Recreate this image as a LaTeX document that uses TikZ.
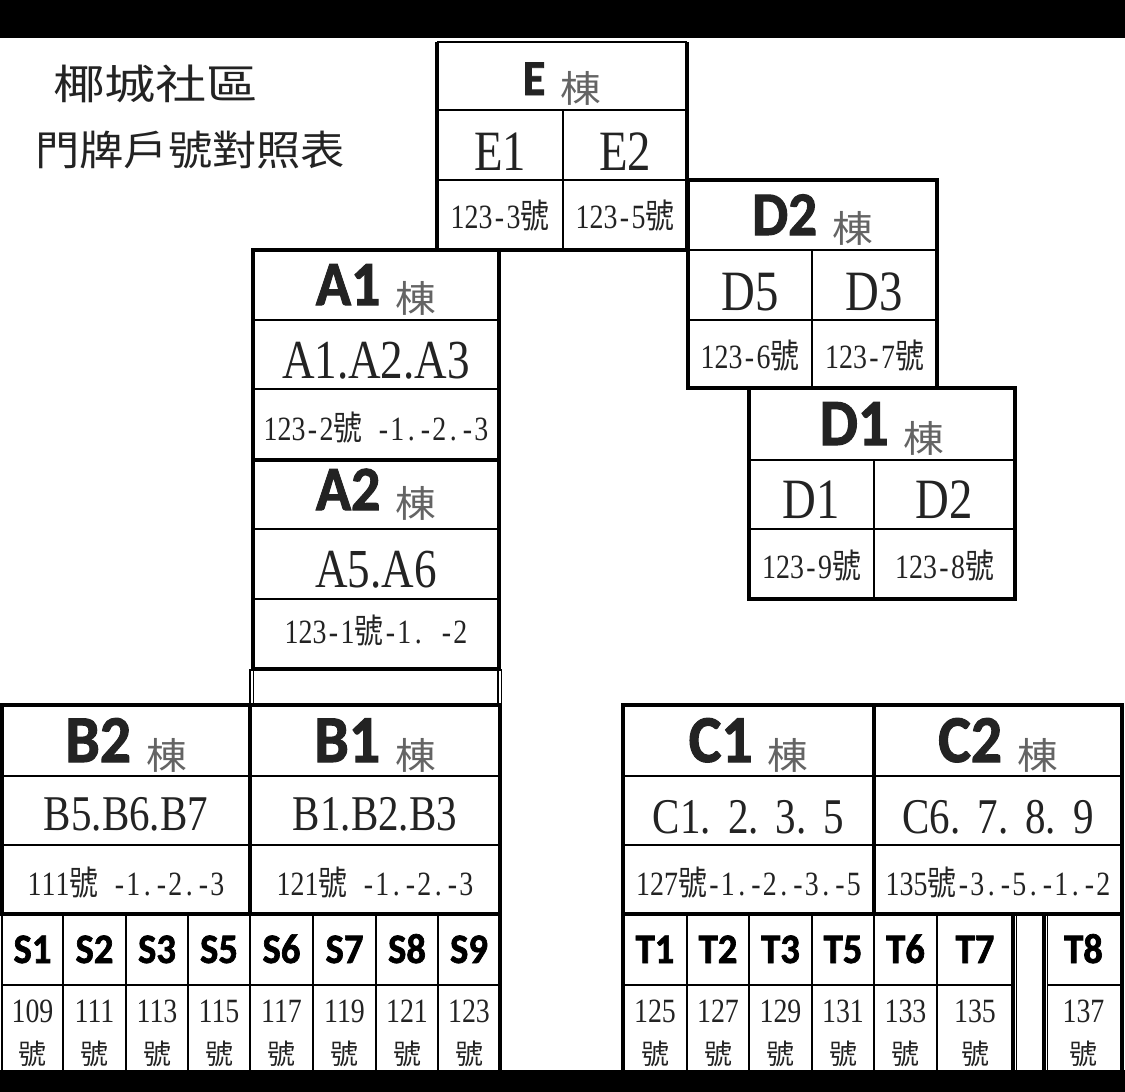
\documentclass[tikz,border=0pt]{standalone}
\usepackage{fontspec}
\setmainfont{Liberation Serif}[FakeStretch=0.82]
\newfontfamily\sansb{Carlito}[UprightFont=*-Bold,FakeStretch=0.92,FakeBold=1.6]
\newfontfamily\cjkwide{Noto Sans CJK TC}[FakeStretch=1.25]
\newfontfamily\cjkdong{Noto Sans CJK TC}[FakeStretch=1.1]
\newfontfamily\cjktitle{Noto Sans CJK TC}[FakeStretch=1.08]
\newfontfamily\cjk{Noto Sans CJK TC}
\newfontfamily\cjknarrow{Noto Sans CJK TC}[FakeStretch=0.85]
\definecolor{donggray}{RGB}{100,100,100}
\definecolor{inkgray}{RGB}{35,35,35}
% building name with the word 棟
\newcommand{\dongname}[2]{{\sansb\fontsize{#1}{#1}\selectfont #2}\hspace{15pt}\raisebox{-7pt}{\cjkdong\color{donggray}\fontsize{37}{37}\selectfont 棟}}
\newcommand{\hao}{{\cjknarrow 號}}
% half-width cells for house numbers
\makeatletter
\newcommand{\monorow}[1]{\@tfor\mch:=#1\do{\makebox[14pt]{\mch}}}
\makeatother
\begin{document}
\begin{tikzpicture}[x=1pt,y=-1pt,
    thickline/.style={line width=4.5pt},
    thinline/.style={line width=1.4pt},
    every node/.style={inner sep=0pt,anchor=base,text=inkgray},
    bigserif/.style={font=\fontsize{#1}{#1}\selectfont},
    smallserif/.style={font=\fontsize{34}{34}\selectfont},
    celllabel/.style={font=\sansb\fontsize{42}{42}\selectfont,text=black},
    cellhao/.style={anchor=center,font=\cjk\fontsize{28}{28}\selectfont}]
    \useasboundingbox (0,0) rectangle (1125,1092);
    \fill[white] (0,0) rectangle (1125,1092);
    % title
    \node[anchor=west] (titleOne) at (53,84) {\cjkwide\fontsize{41}{41}\selectfont 椰城社區};
    \node[anchor=west] (titleTwo) at (35,150) {\cjktitle\fontsize{41}{41}\selectfont 門牌戶號對照表};
    % E block
    \draw[thinline] (437,42) -- (687,42);
    \draw[thickline] (437,42) -- (437,250) -- (687,250) -- (687,42);
    \draw[thinline] (437,110) -- (687,110) (437,180) -- (687,180) (563,110) -- (563,250);
    % D2 block
    \draw[thickline] (688,180) rectangle (937,388);
    \draw[thinline] (688,250) -- (937,250) (688,320) -- (937,320) (812,250) -- (812,388);
    % D1 block
    \draw[thickline] (749,388) rectangle (1015,599);
    \draw[thinline] (749,460) -- (1015,460) (749,529) -- (1015,529) (874,460) -- (874,599);
    % A1 and A2 blocks
    \draw[thickline] (253,250) rectangle (499,669);
    \draw[thickline] (253,460) -- (499,460);
    \draw[thinline] (253,320) -- (499,320) (253,389) -- (499,389) (253,529) -- (499,529) (253,599) -- (499,599);
    \draw[thinline] (250,669) -- (250,705) (253.5,669) -- (253.5,705) (498,669) -- (498,705) (501.5,669) -- (501.5,705);
    % B2 and B1 blocks
    \draw[thickline] (2,705) rectangle (500,914);
    \draw[thickline] (250,705) -- (250,914);
    \draw[thinline] (2,776) -- (500,776) (2,845) -- (500,845);
    % S row
    \draw[thickline] (500,914) -- (500,1092);
    \draw[thinline] (2,914) -- (2,1092) (2,985) -- (500,985);
    \foreach \x in {63,126,188,250,313,376,438}
        \draw[thinline] (\x,914) -- (\x,1092);
    % C1 and C2 blocks
    \draw[thickline] (623,705) rectangle (1122,914);
    \draw[thickline] (874,705) -- (874,914);
    \draw[thinline] (623,776) -- (1122,776) (623,845) -- (1122,845);
    % T row
    \draw[thickline] (623,914) -- (623,1092) (1122,914) -- (1122,1092) (1013,914) -- (1013,1092) (1044,914) -- (1044,1092);
    \draw[thinline] (1016.5,914) -- (1016.5,1092) (1047.5,914) -- (1047.5,1092);
    \draw[thinline] (623,985) -- (1013,985) (1047.5,985) -- (1122,985);
    \foreach \x in {687,749,812,874,937}
        \draw[thinline] (\x,914) -- (\x,1092);
    % headers
    \node (eHead) at (562,95) {\dongname{50}{E}};
    \node (dtwoHead) at (812.5,235) {\dongname{62}{D2}};
    \node (doneHead) at (882,445) {\dongname{66}{D1}};
    \node (aoneHead) at (376,305) {\dongname{63}{A1}};
    \node (atwoHead) at (376,510) {\dongname{63}{A2}};
    \node (btwoHead) at (126,762) {\dongname{67}{B2}};
    \node (boneHead) at (375,762) {\dongname{67}{B1}};
    \node (coneHead) at (748.5,762) {\dongname{67}{C1}};
    \node (ctwoHead) at (998,762) {\dongname{67}{C2}};
    % unit names
    \node[bigserif=57] (eOne) at (500,170) {E1};
    \node[bigserif=57] (eTwo) at (625,170) {E2};
    \node[bigserif=57] (dFive) at (750,310) {D5};
    \node[bigserif=57] (dThree) at (874.5,310) {D3};
    \node[bigserif=57] (dOne) at (811.5,518) {D1};
    \node[bigserif=57] (dTwo) at (944.5,518) {D2};
    \node[bigserif=55] (aUnits) at (376,378) {A1.A2.A3};
    \node[bigserif=55] (aTwoUnits) at (376,587) {A5.A6};
    \node[bigserif=50] (bTwoUnits) at (126,830) {B5.B6.B7};
    \node[bigserif=50] (bOneUnits) at (375,830) {B1.B2.B3};
    \node[bigserif=50] (cOneUnits) at (748.5,833) {C1.\hspace{17pt}2.\hspace{17pt}3.\hspace{17pt}5};
    \node[bigserif=50] (cTwoUnits) at (998,833) {C6.\hspace{17pt}7.\hspace{17pt}8.\hspace{17pt}9};
    % house numbers
    \node[smallserif] (eOneNo) at (500,228) {\monorow{123-3}\hao};
    \node[smallserif] (eTwoNo) at (625,228) {\monorow{123-5}\hao};
    \node[smallserif] (dFiveNo) at (750,368) {\monorow{123-6}\hao};
    \node[smallserif] (dThreeNo) at (874.5,368) {\monorow{123-7}\hao};
    \node[smallserif] (dOneNo) at (811.5,578) {\monorow{123-9}\hao};
    \node[smallserif] (dTwoNo) at (944.5,578) {\monorow{123-8}\hao};
    \node[smallserif] (aOneNo) at (376,440) {\monorow{123-2}\hao\monorow{~-1.-2.-3}};
    \node[smallserif] (aTwoNo) at (376,643) {\monorow{123-1}\hao\monorow{-1.~-2}};
    \node[smallserif] (bTwoNo) at (126,895) {\monorow{111}\hao\monorow{~-1.-2.-3}};
    \node[smallserif] (bOneNo) at (375,895) {\monorow{121}\hao\monorow{~-1.-2.-3}};
    \node[smallserif] (cOneNo) at (748.5,895) {\monorow{127}\hao\monorow{-1.-2.-3.-5}};
    \node[smallserif] (cTwoNo) at (998,895) {\monorow{135}\hao\monorow{-3.-5.-1.-2}};
    % shops
    \foreach \lab/\num/\x in {S1/109/32.5, S2/111/94.5, S3/113/157, S5/115/219,
            S6/117/281.5, S7/119/344.5, S8/121/407, S9/123/469,
            T1/125/655, T2/127/718, T3/129/780.5, T5/131/843,
            T6/133/905.5, T7/135/975, T8/137/1083.5} {
        \node[celllabel] (\lab) at (\x,963) {\lab};
        \node[smallserif] (n\num) at (\x,1022) {\num};
        \node[cellhao] (h\num) at (\x,1054) {號};
    }
    % black bands
    \fill[black] (0,0) rectangle (1125,38);
    \fill[black] (0,1070) rectangle (1125,1092);
\end{tikzpicture}
\end{document}
